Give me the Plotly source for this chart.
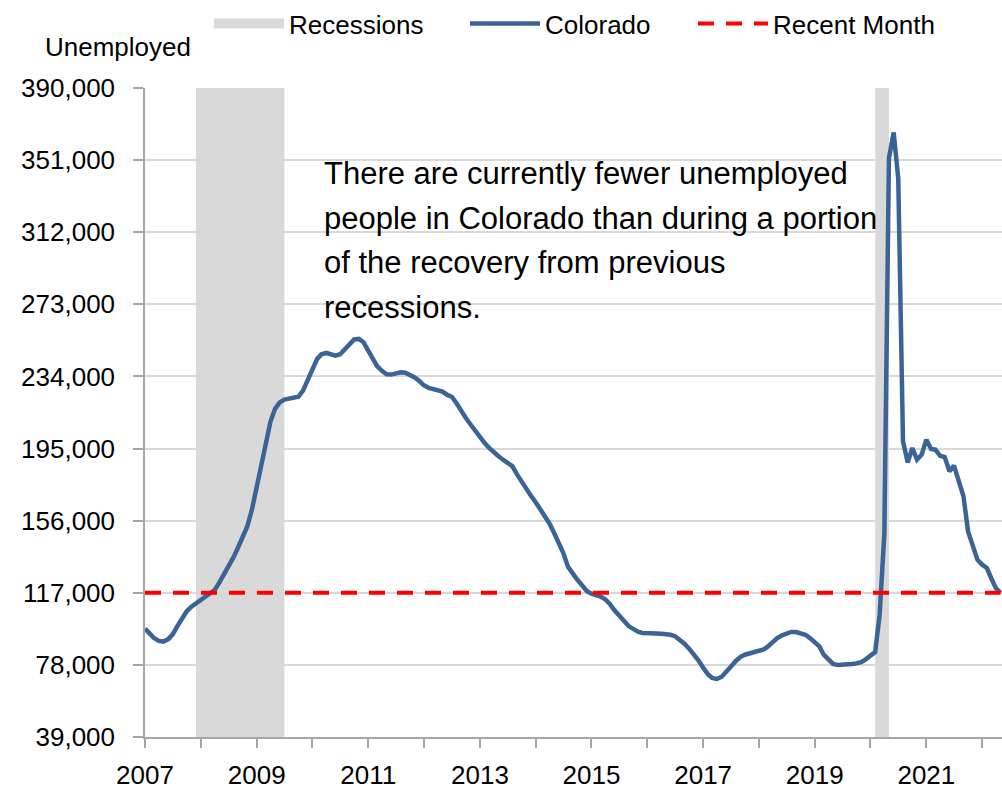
import pandas as pd
import plotly.graph_objects as go

# Colorado unemployed persons, monthly, thousands (Jan 2007 onward)
unemployed_k = [
    97.6, 95.0, 92.5, 91.0, 90.6, 91.8, 94.5, 99.0, 103.5, 107.0, 109.5, 111.3,   # 2007
    113.0, 115.0, 116.5, 118.5, 122.5, 127.0, 131.0, 136.0, 141.5, 146.5, 153.0, 162.0,  # 2008
    173.5, 186.0, 198.0, 209.5, 216.5, 220.0, 221.5, 222.0, 222.3, 223.0, 226.5, 232.0,  # 2009
    238.5, 243.5, 246.0, 246.7, 246.0, 245.3, 246.0, 248.5, 251.5, 254.0, 254.3, 252.5,  # 2010
    248.0, 243.0, 239.5, 237.0, 235.2, 235.0, 235.8, 236.2, 236.0, 235.0, 233.5, 231.5,  # 2011
    229.2, 227.8, 227.0, 226.5, 225.8, 224.0, 223.0, 219.5, 215.0, 211.5, 208.0, 204.5,  # 2012
    201.5, 198.0, 195.5, 193.0, 191.0, 189.0, 187.0, 185.5, 181.0, 177.0, 173.0, 169.5,  # 2013
    166.0, 162.0, 158.5, 154.5, 149.5, 144.0, 138.5, 131.0, 127.0, 124.0, 121.0, 118.0,  # 2014
    116.5, 116.0, 115.0, 113.5, 111.0, 107.5, 104.5, 101.5, 99.0, 97.5, 96.0, 95.3,     # 2015
    95.0, 95.0, 95.0, 94.8, 94.6, 94.3, 93.5, 91.8, 89.5, 86.8, 84.0, 80.5,             # 2016
    76.5, 73.0, 71.0, 70.4, 71.5, 74.0, 77.0, 80.0, 82.2, 83.5, 84.3, 85.0,             # 2017
    85.5, 86.3, 88.0, 90.5, 92.5, 94.0, 95.2, 95.8, 95.8, 95.0, 94.3, 92.5,             # 2018
    90.5, 88.0, 83.5, 80.5, 78.5, 78.0, 78.0, 78.3, 78.5, 78.8, 79.5, 81.0,             # 2019
    83.0, 85.0, 105.0, 149.0, 352.0, 366.0, 341.0, 199.0, 187.5, 195.3, 189.0, 191.7,   # 2020
    199.8, 194.8, 194.4, 191.1, 190.4, 182.7, 185.7, 176.4, 169.1, 150.2, 142.1, 134.9, # 2021
    132.2, 130.4, 125.0, 119.5, 117.0,                                                  # 2022
]
unemployed = [v * 1000 for v in unemployed_k]
months = pd.date_range("2007-01-01", periods=len(unemployed), freq="MS")

# NBER recessions (first and last month, inclusive)
rec_start = ["2007-12-01", "2020-02-01"]
rec_end = ["2009-06-01", "2020-04-01"]

# Axis ticks
y_ticks = [39000, 78000, 117000, 156000, 195000, 234000, 273000, 312000, 351000, 390000]
tick_years = list(range(2007, 2023))
tick_labels = [str(y) if (y - 2007) % 2 == 0 else "" for y in tick_years]

note_lines = [
    "There are currently fewer unemployed",
    "people in Colorado than during a portion",
    "of the recovery from previous",
    "recessions.",
]

FONT = "Liberation Sans, Arial, sans-serif"
BLUE = "#3B6496"
GREY = "#D9D9D9"
AXIS = "#A6A6A6"

# plot-area geometry in pixels, used to place paper-referenced items
L, T, W, H = 145, 88, 857, 649


def px_x(px):
    return (px - L) / W


def px_y(py):
    return 1.0 - (py - T) / H


recent = unemployed[-1]

fig = go.Figure()

# recession shading, drawn between gridlines and traces
for s, e in zip(rec_start, rec_end):
    x1 = pd.Timestamp(e) + pd.offsets.MonthBegin(1)
    fig.add_shape(
        type="rect", xref="x", yref="y",
        x0=s, x1=x1, y0=y_ticks[0], y1=y_ticks[-1],
        fillcolor=GREY, line=dict(width=0), layer="between",
    )

# legend key for the shaded recession bands
fig.add_trace(go.Scatter(
    x=[None], y=[None], mode="lines", name="Recessions",
    line=dict(color=GREY, width=15), legend="legend",
))
fig.add_trace(go.Scatter(
    x=months, y=unemployed, mode="lines", name="Colorado",
    line=dict(color=BLUE, width=4.5), legend="legend2",
))
fig.add_trace(go.Scatter(
    x=[months[0], months[-1]], y=[recent, recent], mode="lines", name="Recent Month",
    line=dict(color="#FF0000", width=4, dash="16px,12px"), legend="legend3",
))

baselines = [183, 228, 272, 317]
for line, base in zip(note_lines, baselines):
    fig.add_annotation(
        x=px_x(322), y=px_y(base - 10), xref="paper", yref="paper",
        xanchor="left", yanchor="middle", align="left", showarrow=False,
        text=line, font=dict(family=FONT, size=31, color="#000000"),
    )
fig.add_annotation(
    x=px_x(43), y=px_y(47), xref="paper", yref="paper",
    xanchor="left", yanchor="middle", showarrow=False,
    text="Unemployed", font=dict(family=FONT, size=26, color="#000000"),
)


def legend_at(px):
    return dict(
        orientation="h", x=px_x(px), xanchor="left",
        y=px_y(23), yanchor="middle",
        font=dict(family=FONT, size=26, color="#000000"),
        itemwidth=70, bgcolor="rgba(0,0,0,0)",
    )


fig.update_layout(
    width=1002, height=792,
    margin=dict(l=L, r=0, t=T, b=792 - T - H),
    paper_bgcolor="white", plot_bgcolor="white",
    font=dict(family=FONT, size=26, color="#000000"),
    showlegend=True,
    legend=legend_at(209),
    legend2=legend_at(465),
    legend3=legend_at(693),
    xaxis=dict(
        type="date", range=["2007-01-01", "2022-05-11"],
        tickvals=[f"{y}-01-01" for y in tick_years], ticktext=tick_labels,
        ticks="outside", ticklen=9, tickwidth=1.5, tickcolor=AXIS,
        showline=True, linecolor=AXIS, linewidth=1.5,
        showgrid=False, zeroline=False, ticklabelstandoff=5,
        tickfont=dict(family=FONT, size=26, color="#000000"),
    ),
    yaxis=dict(
        range=[y_ticks[0], y_ticks[-1]], tickvals=y_ticks, tickformat=",",
        ticks="outside", ticklen=10, tickwidth=1.5, tickcolor=AXIS,
        showline=True, linecolor=AXIS, linewidth=1.5,
        showgrid=True, gridcolor=GREY, gridwidth=1.5, zeroline=False,
        ticklabelstandoff=13,
        tickfont=dict(family=FONT, size=26, color="#000000"),
    ),
)

fig.write_html("out.html")
